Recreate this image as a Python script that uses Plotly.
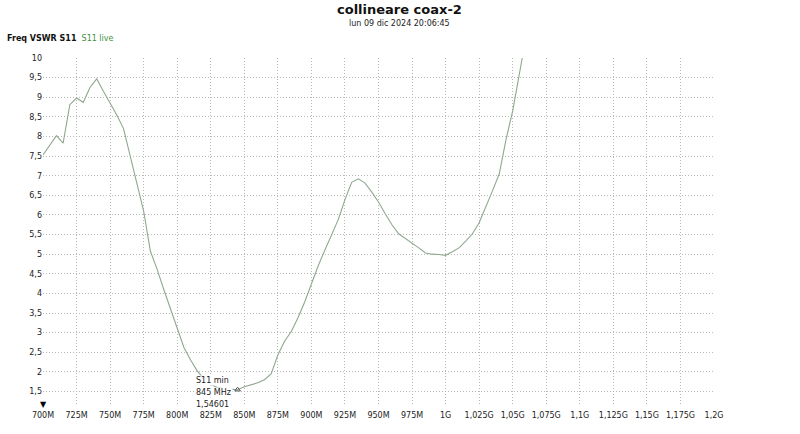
import plotly.graph_objects as go

freq_mhz = [700, 705, 710, 715, 720, 725, 730, 735, 740, 745, 750, 755, 760, 765, 770,
            775, 780, 785, 790, 795, 800, 805, 810, 815, 820, 825, 830, 835, 840, 845,
            850, 855, 860, 865, 870, 875, 880, 885, 890, 895, 900, 905, 910, 915, 920,
            925, 930, 935, 940, 945, 950, 955, 960, 965, 970, 975, 980, 985, 990, 995,
            1000, 1005, 1010, 1015, 1020, 1025, 1030, 1035, 1040, 1045, 1050, 1055, 1060, 1065]
vswr = [7.53, 7.78, 8.02, 7.83, 8.81, 8.98, 8.87, 9.25, 9.47, 9.15, 8.85, 8.55, 8.20, 7.48, 6.80,
        6.10, 5.08, 4.62, 4.10, 3.60, 3.08, 2.62, 2.30, 2.02, 1.82, 1.68, 1.60, 1.57, 1.56, 1.546,
        1.62, 1.67, 1.72, 1.80, 1.95, 2.43, 2.78, 3.03, 3.38, 3.78, 4.26, 4.70, 5.10, 5.47, 5.88,
        6.39, 6.83, 6.92, 6.81, 6.58, 6.33, 6.03, 5.75, 5.52, 5.40, 5.30, 5.16, 5.03, 5.00, 4.99,
        4.97, 5.06, 5.16, 5.33, 5.52, 5.80, 6.20, 6.62, 7.05, 7.92, 8.65, 9.55, 10.45, 11.5]

x_tickvals = [700, 725, 750, 775, 800, 825, 850, 875, 900, 925, 950, 975, 1000,
              1025, 1050, 1075, 1100, 1125, 1150, 1175, 1200]
x_ticktext = ["700M", "725M", "750M", "775M", "800M", "825M", "850M", "875M", "900M",
              "925M", "950M", "975M", "1G", "1,025G", "1,05G", "1,075G", "1,1G",
              "1,125G", "1,15G", "1,175G", "1,2G"]
y_tickvals = [1.5, 2, 2.5, 3, 3.5, 4, 4.5, 5, 5.5, 6, 6.5, 7, 7.5, 8, 8.5, 9, 9.5, 10]
y_ticktext = ["1,5", "2", "2,5", "3", "3,5", "4", "4,5", "5", "5,5", "6", "6,5", "7",
              "7,5", "8", "8,5", "9", "9,5", "10"]

min_freq = 845
min_vswr = 1.546
min_lines = ["S11 min", "845 MHz", "1,54601"]

FONT = "DejaVu Sans"
GRID = "#b8b8b8"

fig = go.Figure()
fig.add_trace(go.Scatter(x=freq_mhz, y=vswr, mode="lines",
                         line=dict(color="#8fa88f", width=1.1), showlegend=False,
                         hoverinfo="x+y"))

fig.update_layout(
    width=800, height=434,
    margin=dict(l=43, r=86, t=58, b=28),
    paper_bgcolor="white", plot_bgcolor="white",
    font=dict(family=FONT, size=8, color="#222222"),
    xaxis=dict(range=[700, 1200], tickvals=x_tickvals, ticktext=x_ticktext,
               showgrid=True, gridcolor=GRID, griddash="1px,2px", gridwidth=1,
               zeroline=False, showline=False, ticks="", ticklen=0,
               ticklabelstandoff=3,
               tickfont=dict(family=FONT, size=8, color="#222222")),
    yaxis=dict(range=[1.13, 10], tickvals=y_tickvals, ticktext=y_ticktext,
               showgrid=True, gridcolor=GRID, griddash="1px,2px", gridwidth=1,
               zeroline=False, showline=False, ticks="", ticklen=0,
               tickfont=dict(family=FONT, size=8, color="#222222")),
)

annotations = [
    dict(text="<b>collineare coax-2</b>", xref="paper", yref="paper",
         x=0.532, y=1.138, xanchor="center", yanchor="middle", showarrow=False,
         font=dict(family=FONT, size=13, color="#111111")),
    dict(text="lun 09 dic 2024 20:06:45", xref="paper", yref="paper",
         x=0.532, y=1.098, xanchor="center", yanchor="middle", showarrow=False,
         font=dict(family=FONT, size=8, color="#222222")),
    dict(text="<b>Freq VSWR S11</b>  <span style='color:#3f8f3f'>S11 live</span>",
         xref="paper", yref="paper", x=-0.0566, y=1.0546, xanchor="left",
         yanchor="middle", showarrow=False,
         font=dict(family=FONT, size=8, color="#111111")),
    dict(text="▼", xref="x", yref="paper", x=700, y=0, xanchor="center",
         yanchor="middle", showarrow=False, yshift=2,
         font=dict(family=FONT, size=8, color="#000000")),
]
for txt, dy in zip(min_lines, [9, -3, -15]):
    annotations.append(dict(text=txt, xref="x", yref="y", x=min_freq, y=min_vswr,
                            xanchor="right", yanchor="middle", xshift=-5, yshift=dy,
                            align="left", showarrow=False, bgcolor="white", borderpad=0,
                            width=36,
                            font=dict(family=FONT, size=8, color="#222222")))
fig.update_layout(annotations=annotations)

fig.add_trace(go.Scatter(x=[min_freq], y=[min_vswr], mode="markers",
                         marker=dict(symbol="triangle-up-open", size=5,
                                     color="#555555", line=dict(width=1)),
                         showlegend=False, cliponaxis=False))

# remove the default 8px page margin so the figure sits at the window's top-left
fig.write_html("out.html", config={"displayModeBar": False},
               post_script="document.body.style.margin='0px';")
